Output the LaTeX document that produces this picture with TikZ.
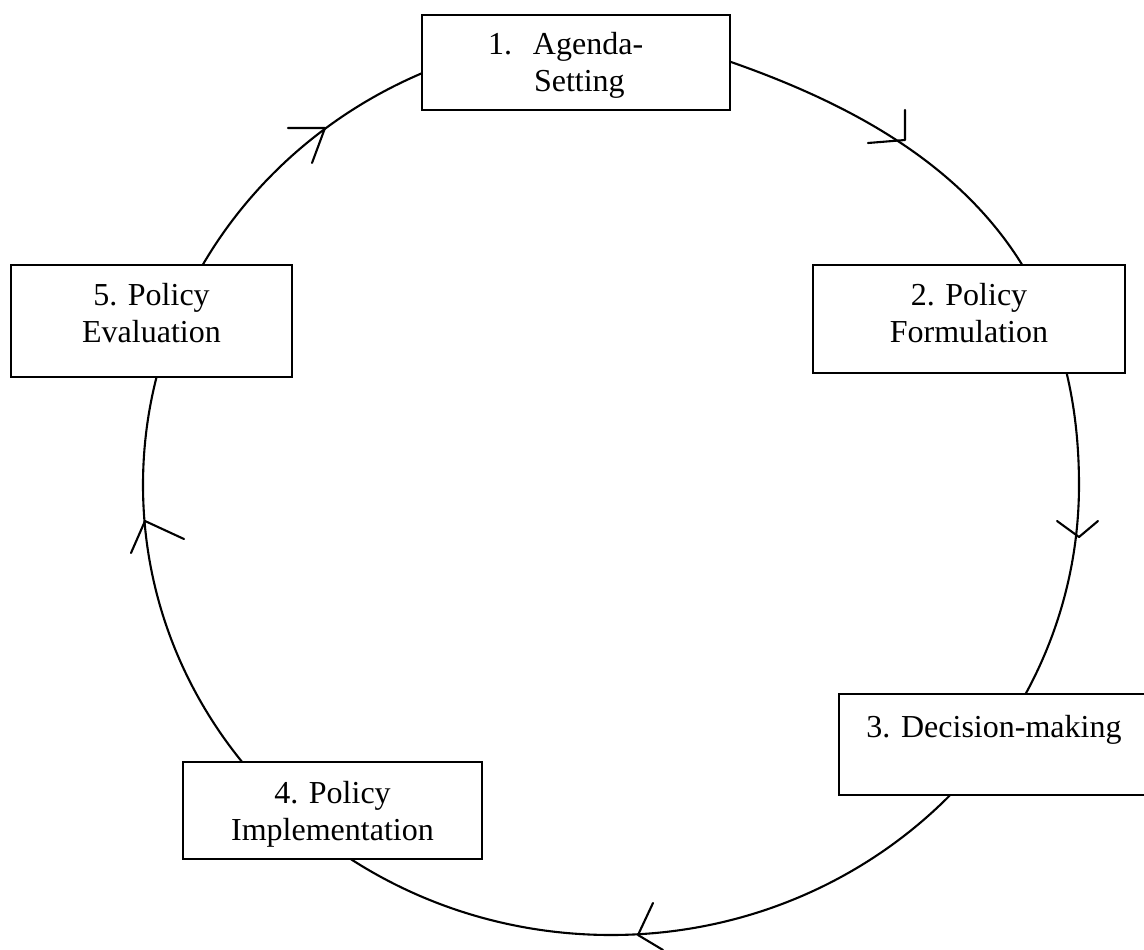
\documentclass[tikz,border=0pt]{standalone}
\usepackage{fontspec}
\setmainfont{Liberation Serif}
\begin{document}
\begin{tikzpicture}[x=1pt,y=-1pt,
  line width=2.1pt,
  every node/.style={font=\fontsize{32}{37}\selectfont},
  stagebox/.style={draw, fill=white, rectangle, inner sep=0pt, line width=2.1pt},
  chev/.style={line width=2.1pt, line cap=round, line join=round}]
\useasboundingbox (0,0) rectangle (1144,950);
% the cycle
\coordinate (cR) at (1079,485);
\draw (cR) arc[start angle=0, end angle=270, x radius=468, y radius=450]
  .. controls (671,35) and (700,50) .. (731,62)
  .. controls (925,130) and (1079,240) .. (cR);
% stages
\node[stagebox] (b1) at (576,62.5) {\parbox[c][95pt][t]{308pt}{\raggedright\rule{0pt}{40pt}\hspace*{66pt}\makebox[45pt][l]{1.}Agenda-\\\hspace*{112pt}Setting}};
\node[stagebox] (b2) at (969,319) {\parbox[c][108pt][t]{312pt}{\centering\rule{0pt}{40pt}2. Policy\\Formulation}};
\node[stagebox] (b3) at (994,744.5) {\parbox[c][101pt][t]{310pt}{\centering\rule{0pt}{43pt}3. Decision-making}};
\node[stagebox] (b4) at (332.5,810.5) {\parbox[c][97pt][t]{299pt}{\centering\rule{0pt}{41pt}4. Policy\\Implementation}};
\node[stagebox] (b5) at (151.5,321) {\parbox[c][112pt][t]{281pt}{\centering\rule{0pt}{40pt}5. Policy\\Evaluation}};
% arrow heads on the cycle
\coordinate (a1) at (325,128);
\coordinate (a2) at (905,140);
\coordinate (a3) at (1079,537);
\coordinate (a4) at (638,935);
\coordinate (a5) at (145,521);
\draw[chev] (a1) ++(-37,0) -- (a1) -- ++(-13,35);
\draw[chev] (a2) ++(0,-30) -- (a2) -- ++(-37,3);
\draw[chev] (a3) ++(-22,-16) -- (a3) -- ++(19,-16);
\draw[chev] (a4) ++(15,-32) -- (a4) -- ++(25,15);
\draw[chev] (a5) ++(-14,32) -- (a5) -- ++(39,18);
\end{tikzpicture}
\end{document}
